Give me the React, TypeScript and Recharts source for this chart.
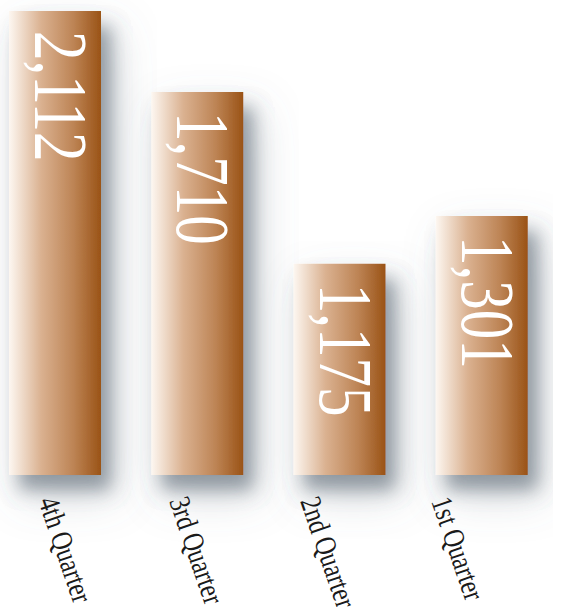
import React from 'react';
import { BarChart, Bar, XAxis, YAxis, LabelList } from 'recharts';

const quarters = ['4th Quarter', '3rd Quarter', '2nd Quarter', '1st Quarter'];
const totals = [2112, 1710, 1175, 1301];
// bar lengths as drawn in the picture (same units as totals)
const barLevels = [2112, 1743, 961, 1179];

const data = quarters.map((q, i) => ({ name: q, total: totals[i], level: barLevels[i] }));

const SERIF = "'Liberation Serif', 'Times New Roman', serif";

const ValueLabel = (props: any) => {
  const { x, y, index } = props;
  const tx = x + 26;
  const ty = y + 20;
  return (
    <text
      transform={`translate(${tx},${ty}) rotate(90) scale(1,1.3)`}
      x={0}
      y={0}
      textAnchor="start"
      fill="#ffffff"
      fontFamily={SERIF}
      fontSize={59}
    >
      {totals[index].toLocaleString('en-US')}
    </text>
  );
};

const QuarterTick = (props: any) => {
  const { x, y, payload, index } = props;
  const tx = x - 17 - index * 11.3;
  const ty = y + 18;
  return (
    <text
      transform={`translate(${tx},${ty}) rotate(71) scale(1,1.25)`}
      x={0}
      y={0}
      textAnchor="start"
      fill="#1a1a1a"
      fontFamily={SERIF}
      fontSize={24}
    >
      {payload.value}
    </text>
  );
};

export default function App() {
  return (
    <div style={{ position: 'absolute', left: -16, top: 0, width: 569, height: 607 }}>
      <BarChart width={569} height={607} data={data} margin={{ top: 11, right: 0, bottom: 0, left: 0 }}>
        <defs>
          <linearGradient id="copper" x1="0" y1="0" x2="1" y2="0">
            <stop offset="0" stopColor="#fdf7f1" />
            <stop offset="0.35" stopColor="#dab190" />
            <stop offset="0.7" stopColor="#bd8455" />
            <stop offset="1" stopColor="#9a5316" />
          </linearGradient>
          <filter id="shade" x="-60%" y="-20%" width="220%" height="150%">
            <feGaussianBlur in="SourceAlpha" stdDeviation="22" result="b2" />
            <feOffset in="b2" dx="14" dy="20" result="o2" />
            <feFlood floodColor="#6a7682" floodOpacity="0.3" />
            <feComposite in2="o2" operator="in" result="s2" />
            <feGaussianBlur in="SourceAlpha" stdDeviation="9" result="b1" />
            <feOffset in="b1" dx="10" dy="15" result="o1" />
            <feFlood floodColor="#5a6773" floodOpacity="0.58" />
            <feComposite in2="o1" operator="in" result="s1" />
            <feMerge>
              <feMergeNode in="s2" />
              <feMergeNode in="s1" />
              <feMergeNode in="SourceGraphic" />
            </feMerge>
          </filter>
        </defs>
        <XAxis
          dataKey="name"
          axisLine={false}
          tickLine={false}
          height={132}
          interval={0}
          tick={<QuarterTick />}
        />
        <YAxis hide domain={[0, 2112]} />
        <Bar
          dataKey="level"
          barSize={92}
          fill="url(#copper)"
          filter="url(#shade)"
          isAnimationActive={false}
        >
          <LabelList dataKey="total" content={<ValueLabel />} />
        </Bar>
      </BarChart>
    </div>
  );
}
